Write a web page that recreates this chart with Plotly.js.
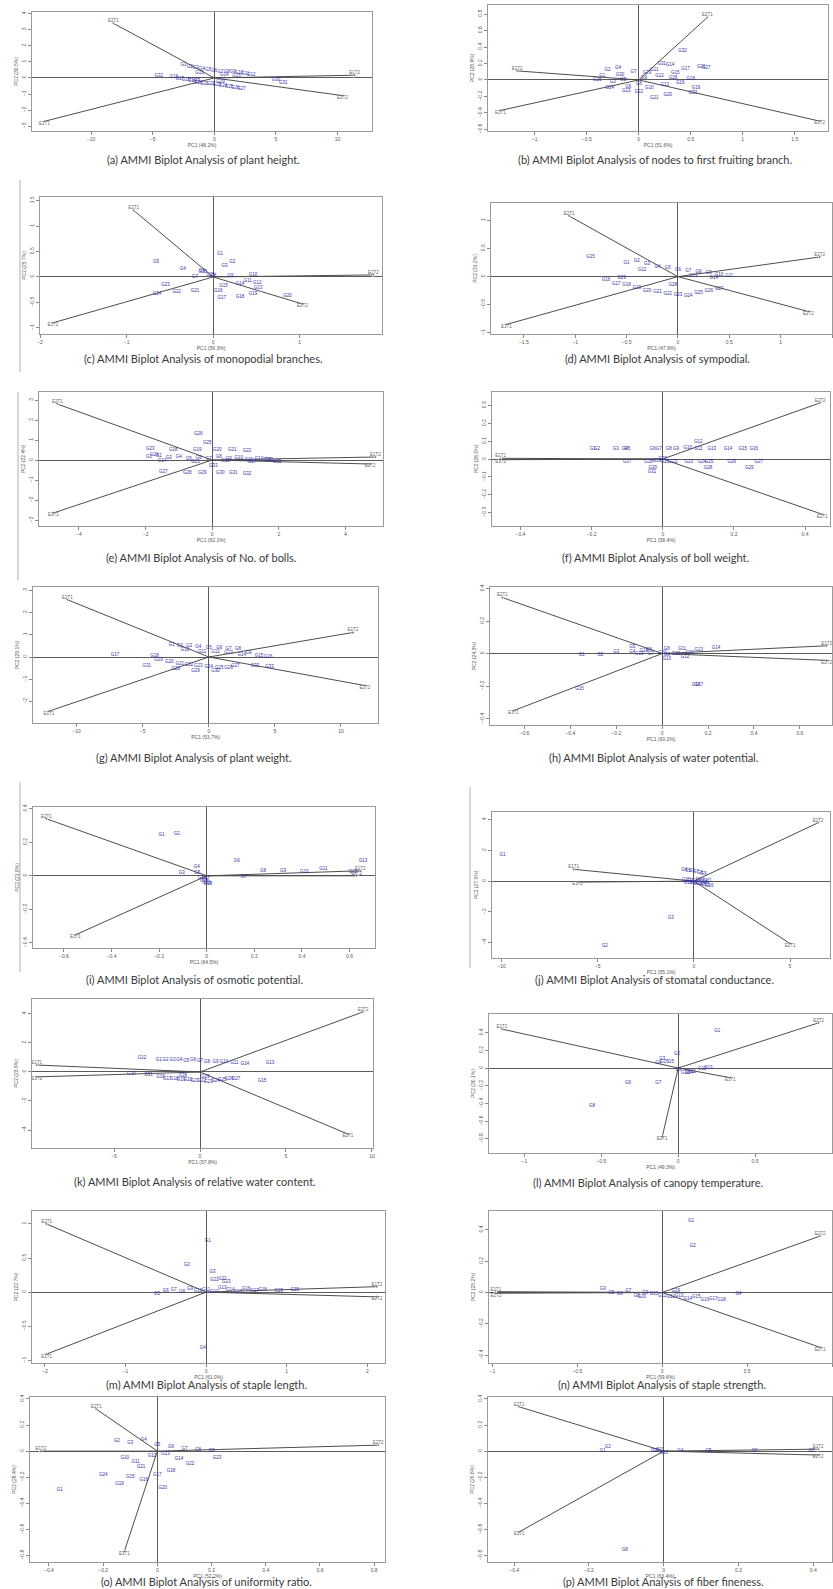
<!DOCTYPE html>
<html><head><meta charset="utf-8">
<script src="https://cdn.plot.ly/plotly-3.0.1.min.js"></script>
<style>html,body{margin:0;padding:0;background:#fff}#chart{width:833px;height:1589px}</style>
</head><body><div id="chart"></div>
<script>
const genoLab = ["G1","G2","G3","G4","G5","G6","G7","G8","G9","G10","G11","G12","G13","G14","G15","G16","G17","G18","G19","G20","G21","G22","G23","G24","G25","G26","G27","G28","G29","G30","G31","G32","G33","G34","G35","G36","G37","G38","G39","G40"];
const pc1Lab = ["PC1 (48.2%)","PC1 (51.6%)","PC1 (56.3%)","PC1 (47.9%)","PC1 (62.1%)","PC1 (58.4%)","PC1 (53.7%)","PC1 (60.2%)","PC1 (64.5%)","PC1 (55.1%)","PC1 (57.8%)","PC1 (49.3%)","PC1 (61.0%)","PC1 (59.6%)","PC1 (52.2%)","PC1 (63.4%)"];
const pc2Lab = ["PC2 (30.5%)","PC2 (28.9%)","PC2 (25.7%)","PC2 (31.2%)","PC2 (22.4%)","PC2 (26.0%)","PC2 (29.1%)","PC2 (24.3%)","PC2 (21.8%)","PC2 (27.5%)","PC2 (23.9%)","PC2 (30.1%)","PC2 (22.7%)","PC2 (25.2%)","PC2 (28.4%)","PC2 (20.6%)"];

// (a) plant height
const aEnvX = [-8.2,-13.8,11.4,10.4], aEnvY = [3.4,-2.7,0.17,-1.1], aEnvLab = ["E2T1","E1T1","E1T2","E2T2"];
const aGenX = [-2.5,-2.0,-1.5,-1.0,-0.5,0,0.5,1.0,1.5,2.0,2.5,3.0,-1.2,0.8,1.8,-3.3,-2.8,-2.3,-1.8,-1.3,-0.8,-0.3,0.2,0.7,1.2,1.7,2.2,-1.5,0.5,5.0,5.6,-4.5];
const aGenY = [0.8,0.7,0.6,0.55,0.5,0.45,0.4,0.38,0.35,0.3,0.25,0.2,0.3,0.2,0.15,0.05,-0.05,-0.15,-0.2,-0.3,-0.35,-0.4,-0.45,-0.5,-0.55,-0.6,-0.65,-0.1,-0.25,-0.1,-0.3,0.1];
const aXT = [-10,-5,0,5,10], aYT = [-3,-2,-1,0,1,2,3,4];
// (b) nodes to first fruiting branch
const bEnvX = [0.66,-1.17,-1.33,1.74], bEnvY = [0.76,0.11,-0.37,-0.5], bEnvLab = ["E2T1","E1T2","E1T1","E2T2"];
const bGenX = [-0.35,-0.3,-0.25,-0.2,-0.15,-0.1,-0.05,0.0,0.05,0.1,0.15,0.2,0.25,0.3,0.35,0.4,0.45,0.5,0.55,0.28,0.15,0.0,-0.12,-0.28,-0.4,0.6,0.65,0.33,0.08,-0.18,0.22,0.42,0.52];
const bGenY = [0.05,0.12,-0.02,0.15,0.0,-0.08,0.1,-0.05,0.03,-0.1,0.12,0.05,-0.06,0.18,0.08,-0.04,0.13,0.01,-0.1,-0.18,-0.22,-0.15,-0.13,-0.1,0.0,0.16,0.15,0.02,0.08,0.06,0.19,0.35,-0.16];
const bXT = [-1,-0.5,0,0.5,1,1.5], bYT = [-0.6,-0.4,-0.2,0,0.2,0.4,0.6,0.8];
// (c) monopodial branches
const cEnvX = [-0.92,-1.85,1.85,1.03], cEnvY = [1.31,-0.9,0.04,-0.53], cEnvLab = ["E2T1","E1T1","E1T2","E2T2"];
const cGenX = [0.08,0.22,0.13,-0.35,-0.66,-0.13,-0.21,0,0.2,0.46,0.4,0.51,0.52,0.31,0.12,0.06,0.1,0.31,0.46,0.86,-0.21,-0.42,-0.55,-0.65,-0.12,-0.03];
const cGenY = [0.45,0.3,0.22,0.16,0.3,0.12,0.0,0.02,0.02,0.04,-0.08,-0.12,-0.22,-0.14,-0.17,-0.27,-0.41,-0.39,-0.33,-0.37,-0.27,-0.29,-0.16,-0.33,0.1,0.04];
const cXT = [-2,-1,0,1], cYT = [-1,-0.5,0,0.5,1,1.5];
// (d) sympodial
const dEnvX = [-1.06,-1.67,1.38,1.27], dEnvY = [1.08,-0.85,0.35,-0.62], dEnvLab = ["E2T1","E1T1","E1T2","E2T2"];
const dGenX = [-0.5,-0.4,-0.3,-0.2,-0.1,0,0.1,0.2,0.3,0.4,0.5,-0.35,0.15,0.35,-0.85,-0.7,-0.6,-0.5,-0.4,-0.3,-0.2,-0.1,0,0.1,0.2,0.3,0.4,-0.05,-0.55];
const dGenY = [0.25,0.28,0.22,0.18,0.15,0.12,0.1,0.08,0.06,0.04,0.02,0.12,0.02,-0.02,0.35,-0.05,-0.12,-0.15,-0.2,-0.25,-0.27,-0.3,-0.32,-0.35,-0.28,-0.25,-0.22,-0.15,-0.03];
const dXT = [-1.5,-1,-0.5,0,0.5,1,1.5], dYT = [-1,-0.5,0,0.5,1];
// (e) No. of bolls
const eEnvX = [-4.65,-4.77,4.9,4.74], eEnvY = [2.8,-2.65,0.15,-0.2], eEnvLab = ["E2T1","E1T1","E1T2","E2T2"];
const eGenX = [-1.9,-1.6,-1.3,-1.0,-0.7,-0.4,-0.1,0.2,0.5,0.8,1.1,1.4,1.7,-1.5,-0.5,0.4,1.2,-1.17,-0.45,0.15,0.6,1.05,-1.86,-1.74,-0.15,-0.42,-1.47,-0.75,-0.3,0.24,0.63,1.05,0.03,1.65,1.95];
const eGenY = [0.15,0.2,0.1,0.18,0.05,0.12,0.08,0.14,0.05,0.1,0.03,0.08,0.02,-0.05,-0.08,-0.05,-0.1,0.5,0.5,0.5,0.5,0.45,0.55,0.25,0.85,1.3,-0.6,-0.65,-0.65,-0.65,-0.65,-0.7,-0.3,0,-0.1];
const eXT = [-4,-2,0,2,4], eYT = [-3,-2,-1,0,1,2,3];
// (f) boll weight
const fEnvX = [0.442,0.448,-0.456,-0.456], fEnvY = [0.315,-0.31,0.004,-0.004], fEnvLab = ["E2T2","E2T1","E1T1","E1T2"];
const fGenX = [-0.197,-0.185,-0.132,-0.107,-0.1,-0.028,-0.011,0.017,0.037,0.07,0.1,0.1,0.138,0.183,0.225,0.256,-0.1,-0.04,-0.017,0.0,0.006,0.03,0.073,0.11,0.13,0.194,0.27,0.127,0.243,-0.028,-0.03];
const fGenY = [0.056,0.056,0.056,0.056,0.056,0.056,0.056,0.056,0.056,0.06,0.056,0.095,0.056,0.056,0.056,0.056,-0.017,-0.017,-0.01,0.0,-0.017,-0.017,-0.017,-0.017,-0.017,-0.017,-0.017,-0.05,-0.05,-0.05,-0.07];
const fXT = [-0.4,-0.2,0,0.2,0.4], fYT = [-0.3,-0.2,-0.1,0,0.1,0.2,0.3];
// (g) plant weight
const gEnvX = [-10.7,-12.1,10.9,11.8], gEnvY = [2.57,-2.43,1.1,-1.28], gEnvLab = ["E2T1","E1T1","E1T2","E2T2"];
const gGenX = [-2.8,-2.2,-1.5,-0.8,0,0.8,1.5,2.2,3.0,-1.8,-0.5,0.5,1.5,2.5,3.8,4.5,-7.1,-4.1,-3.8,-3.0,-2.2,-1.5,-0.8,0,0.8,1.5,2.0,-2.5,-1.0,0.5,-4.7,3.5,4.6];
const gGenY = [0.55,0.5,0.48,0.45,0.42,0.4,0.38,0.35,0.2,0.3,0.25,0.22,0.18,0.1,0.05,0.02,0.09,0.04,-0.15,-0.2,-0.3,-0.35,-0.4,-0.45,-0.5,-0.5,-0.4,-0.55,-0.6,-0.62,-0.4,-0.4,-0.44];
const gXT = [-10,-5,0,5,10], gYT = [-2,-1,0,1,2,3];
// (h) water potential
const hEnvX = [-0.696,-0.648,0.717,0.717], hEnvY = [0.345,-0.352,0.048,-0.042], hEnvLab = ["E2T1","E1T1","E1T2","E2T2"];
const hGenX = [-0.35,-0.27,-0.2,-0.13,-0.13,-0.057,-0.05,0.02,0.02,0.02,0.087,0.1,0.16,0.235,-0.36,0.148,0.16,-0.08,-0.1,0.0,0.06,0.12];
const hGenY = [-0.01,-0.01,0.01,0.012,0.04,0.024,0.0,0.03,-0.01,-0.03,0.03,-0.02,0.024,0.036,-0.22,-0.19,-0.19,0.015,0.0,0.005,0.0,0.005];
const hXT = [-0.6,-0.4,-0.2,0,0.2,0.4,0.6], hYT = [-0.4,-0.2,0,0.2,0.4];
// (i) osmotic potential
const iEnvX = [-0.674,-0.552,0.645,0.63], iEnvY = [0.34,-0.352,0.03,0.0], iEnvLab = ["E2T1","E1T1","E1T2","E2T2"];
const iGenX = [-0.19,-0.126,-0.105,-0.042,-0.04,0.126,0.156,0.236,0.32,0.41,0.49,0.615,0.657,-0.02,-0.01,0.0,-0.005,0.005];
const iGenY = [0.245,0.25,0.018,0.054,0.02,0.09,-0.006,0.03,0.03,0.024,0.042,0.024,0.09,-0.01,-0.03,-0.04,-0.02,-0.05];
const iXT = [-0.6,-0.4,-0.2,0,0.2,0.4,0.6], iYT = [-0.4,-0.2,0,0.2,0.4];
// (j) stomatal conductance
const jEnvX = [6.46,5.0,-6.25,-6.04], jEnvY = [3.8,-4.06,0.77,-0.06], jEnvLab = ["E2T2","E2T1","E1T1","E1T2"];
const jGenX = [-9.95,-4.63,-1.2,-0.5,-0.3,-0.1,0.1,0.3,0.5,-0.4,-0.2,0.0,0.2,0.4,0.6,0.8,0.1,0.5,-0.3,0.3,0.7];
const jGenY = [1.74,-4.2,-2.4,0.75,0.7,0.65,0.6,0.55,0.5,0.1,0.0,-0.1,-0.15,-0.2,-0.25,-0.3,0.05,-0.05,-0.1,0.1,0.0];
const jXT = [-10,-5,0,5], jYT = [-4,-2,0,2,4];
// (k) relative water content
const kEnvX = [9.48,8.6,-9.5,-9.5], kEnvY = [4.14,-4.28,0.48,-0.34], kEnvLab = ["E2T2","E2T1","E1T1","E1T2"];
const kGenX = [-2.4,-2.0,-1.6,-1.2,-0.8,-0.4,0.0,0.4,0.9,1.4,2.0,-3.37,4.07,2.6,3.6,-2.3,-1.9,-1.5,-1.1,-0.7,-0.3,0.1,0.5,0.9,1.3,1.7,2.1,-1.0,0.3,-4.0,-3.0];
const kGenY = [0.85,0.8,0.82,0.8,0.78,0.8,0.75,0.72,0.7,0.68,0.66,0.97,0.62,0.55,-0.62,-0.35,-0.45,-0.5,-0.55,-0.55,-0.6,-0.6,-0.65,-0.6,-0.55,-0.5,-0.45,-0.3,-0.35,-0.1,-0.2];
const kXT = [-5,0,5,10], kYT = [-4,-2,0,2,4];
// (l) canopy temperature
const lEnvX = [-1.147,0.913,-0.104,0.34], lEnvY = [0.44,0.51,-0.78,-0.11], lEnvLab = ["E1T2","E2T2","E2T1","E1T1"];
const lGenX = [0.254,-0.007,-0.104,-0.13,-0.046,-0.326,-0.13,-0.56,0.0,0.046,0.09,0.156,0.196,0.07,-0.09];
const lGenY = [0.42,0.158,0.1,0.06,0.068,-0.17,-0.17,-0.43,-0.02,-0.05,-0.04,-0.015,0.0,-0.06,0.07];
const lXT = [-1,-0.5,0,0.5], lYT = [-0.8,-0.6,-0.4,-0.2,0,0.2,0.4];
// (m) staple length
const mEnvX = [-1.98,-1.98,2.12,2.12], mEnvY = [1.0,-0.91,0.08,-0.07], mEnvLab = ["E2T1","E1T1","E1T2","E2T2"];
const mGenX = [0.02,-0.24,0.08,-0.04,-0.61,-0.5,-0.4,-0.3,-0.2,-0.1,0.0,0.1,0.2,0.3,0.4,0.5,0.6,0.7,0.9,1.1,0.1,0.2,0.25];
const mGenY = [0.75,0.4,0.3,-0.82,-0.03,0.02,0.04,0.0,0.05,0.02,0.04,0.0,0.06,0.03,0.01,0.05,0.02,0.04,0.02,0.03,0.18,0.2,0.15];
const mXT = [-2,-1,0,1,2], mYT = [-1,-0.5,0,0.5,1];
// (n) staple strength
const nEnvX = [0.93,0.93,-0.98,-0.98], nEnvY = [0.36,-0.35,0.005,-0.005], nEnvLab = ["E2T2","E2T1","E1T1","E1T2"];
const nGenX = [0.17,0.18,-0.35,0.45,-0.3,-0.25,-0.2,-0.15,-0.1,-0.05,0.0,0.05,0.1,0.15,0.2,0.25,0.3,0.35,0.08,-0.12];
const nGenY = [0.46,0.3,0.02,-0.01,0.0,-0.01,0.01,-0.02,0.0,-0.01,-0.02,-0.03,-0.02,-0.04,-0.03,-0.05,-0.04,-0.05,0.01,-0.03];
const nXT = [-1,-0.5,0,0.5,1], nYT = [-0.4,-0.2,0,0.2,0.4];
// (o) uniformity ratio
const oEnvX = [-0.226,-0.122,-0.43,0.815], oEnvY = [0.323,-0.77,0.0,0.046], oEnvLab = ["E2T1","E1T1","E1T2","E2T2"];
const oGenX = [-0.36,-0.15,-0.1,-0.05,0.0,0.05,0.1,0.15,0.2,-0.12,-0.08,-0.02,0.03,0.08,-0.1,-0.05,0.0,0.05,-0.14,0.02,-0.06,0.12,0.22,-0.2];
const oGenY = [-0.3,0.08,0.06,0.09,0.05,0.03,0.02,0.01,0.0,-0.05,-0.08,-0.04,-0.02,-0.06,-0.2,-0.22,-0.18,-0.15,-0.25,-0.28,-0.12,-0.1,-0.05,-0.18];
const oXT = [-0.4,-0.2,0,0.2,0.4,0.6,0.8], oYT = [-0.8,-0.6,-0.4,-0.2,0,0.2,0.4];
// (p) fiber fineness
const pEnvX = [-0.387,-0.387,0.413,0.413], pEnvY = [0.34,-0.62,0.015,-0.03], pEnvLab = ["E2T1","E1T1","E1T2","E2T2"];
const pGenX = [-0.163,-0.15,-0.027,0.045,0.12,0.243,0.395,-0.104,-0.02,0.0,-0.01];
const pGenY = [0.0,0.03,0.0,0.0,0.0,0.0,0.0,-0.76,0.0,-0.01,0.01];
const pXT = [-0.4,-0.2,0,0.2,0.4], pYT = [-0.8,-0.6,-0.4,-0.2,0,0.2,0.4];

const captions = [
 "(a) AMMI Biplot Analysis of plant height.",
 "(b) AMMI Biplot Analysis of nodes to first fruiting branch.",
 "(c) AMMI Biplot Analysis of monopodial branches.",
 "(d) AMMI Biplot Analysis of sympodial.",
 "(e) AMMI Biplot Analysis of No. of bolls.",
 "(f) AMMI Biplot Analysis of boll weight.",
 "(g) AMMI Biplot Analysis of plant weight.",
 "(h) AMMI Biplot Analysis of water potential.",
 "(i) AMMI Biplot Analysis of osmotic potential.",
 "(j) AMMI Biplot Analysis of stomatal conductance.",
 "(k) AMMI Biplot Analysis of relative water content.",
 "(l) AMMI Biplot Analysis of canopy temperature.",
 "(m) AMMI Biplot Analysis of staple length.",
 "(n) AMMI Biplot Analysis of staple strength.",
 "(o) AMMI Biplot Analysis of uniformity ratio.",
 "(p) AMMI Biplot Analysis of fiber fineness."
];

// layout: frame [left,right,top,bottom] in px, axis ranges, caption centre
const panels = [
 {ex:aEnvX,ey:aEnvY,el:aEnvLab,gx:aGenX,gy:aGenY,xt:aXT,yt:aYT,fr:[32,372,12,131],xr:[-14.8,12.8],yr:[-3.3,4.1],cap:[203,160]},
 {ex:bEnvX,ey:bEnvY,el:bEnvLab,gx:bGenX,gy:bGenY,xt:bXT,yt:bYT,fr:[488,828,5,131],xr:[-1.45,1.82],yr:[-0.62,0.91],cap:[655,160]},
 {ex:cEnvX,ey:cEnvY,el:cEnvLab,gx:cGenX,gy:cGenY,xt:cXT,yt:cYT,fr:[40,382,197,334],xr:[-2.0,1.95],yr:[-1.12,1.57],cap:[203,358]},
 {ex:dEnvX,ey:dEnvY,el:dEnvLab,gx:dGenX,gy:dGenY,xt:dXT,yt:dYT,fr:[491,832,203,334],xr:[-1.82,1.5],yr:[-1.02,1.31],cap:[657,358]},
 {ex:eEnvX,ey:eEnvY,el:eEnvLab,gx:eGenX,gy:eGenY,xt:eXT,yt:eYT,fr:[39,383,392,526],xr:[-5.2,5.13],yr:[-3.3,3.4],cap:[201,557]},
 {ex:fEnvX,ey:fEnvY,el:fEnvLab,gx:fGenX,gy:fGenY,xt:fXT,yt:fYT,fr:[492,830,392,526],xr:[-0.48,0.47],yr:[-0.376,0.376],cap:[655,557]},
 {ex:gEnvX,ey:gEnvY,el:gEnvLab,gx:gGenX,gy:gGenY,xt:gXT,yt:gYT,fr:[33,378,587,723],xr:[-13.3,12.8],yr:[-2.96,3.14],cap:[194,757]},
 {ex:hEnvX,ey:hEnvY,el:hEnvLab,gx:hGenX,gy:hGenY,xt:hXT,yt:hYT,fr:[490,832,587,725],xr:[-0.75,0.74],yr:[-0.44,0.41],cap:[653,757]},
 {ex:iEnvX,ey:iEnvY,el:iEnvLab,gx:iGenX,gy:iGenY,xt:iXT,yt:iYT,fr:[33,375,807,948],xr:[-0.73,0.707],yr:[-0.43,0.41],cap:[194,979]},
 {ex:jEnvX,ey:jEnvY,el:jEnvLab,gx:jGenX,gy:jGenY,xt:jXT,yt:jYT,fr:[492,830,812,958],xr:[-10.5,7.08],yr:[-5.0,4.5],cap:[654,979]},
 {ex:kEnvX,ey:kEnvY,el:kEnvLab,gx:kGenX,gy:kGenY,xt:kXT,yt:kYT,fr:[32,373,999,1148],xr:[-9.77,10.06],yr:[-5.24,5.03],cap:[195,1181]},
 {ex:lEnvX,ey:lEnvY,el:lEnvLab,gx:lGenX,gy:lGenY,xt:lXT,yt:lYT,fr:[489,832,1014,1153],xr:[-1.23,1.0],yr:[-0.96,0.61],cap:[648,1182]},
 {ex:mEnvX,ey:mEnvY,el:mEnvLab,gx:mGenX,gy:mGenY,xt:mXT,yt:mYT,fr:[32,385,1211,1363],xr:[-2.16,2.22],yr:[-1.04,1.19],cap:[206,1384]},
 {ex:nEnvX,ey:nEnvY,el:nEnvLab,gx:nGenX,gy:nGenY,xt:nXT,yt:nYT,fr:[489,832,1211,1363],xr:[-1.02,1.0],yr:[-0.45,0.52],cap:[662,1384]},
 {ex:oEnvX,ey:oEnvY,el:oEnvLab,gx:oGenX,gy:oGenY,xt:oXT,yt:oYT,fr:[30,385,1397,1562],xr:[-0.47,0.84],yr:[-0.85,0.415],cap:[206,1581]},
 {ex:pEnvX,ey:pEnvY,el:pEnvLab,gx:pGenX,gy:pGenY,xt:pXT,yt:pYT,fr:[488,832,1397,1562],xr:[-0.47,0.45],yr:[-0.85,0.415],cap:[663,1581]}
];

const W = 833, H = 1589;
const data = [];
const layout = {width:W,height:H,margin:{l:0,r:0,t:0,b:0},paper_bgcolor:'#fff',plot_bgcolor:'#fff',
  showlegend:false,annotations:[],shapes:[],font:{family:'Liberation Sans, Arial, sans-serif'}};

const axCommon = {showgrid:false,zeroline:true,zerolinecolor:'#5a5a5a',zerolinewidth:1,showline:true,mirror:true,
  linecolor:'#9a9a9a',linewidth:1,ticks:'outside',ticklen:3,tickwidth:1,tickcolor:'#888',
  tickfont:{size:5,color:'#555'},fixedrange:true};

panels.forEach((p,i)=>{
  const n = i+1, s = n===1 ? '' : String(n);
  const xa = 'x'+s, ya = 'y'+s;
  const [l,r,t,b] = p.fr;
  layout['xaxis'+s] = Object.assign({}, axCommon, {domain:[l/W,r/W],range:p.xr,anchor:ya,tickvals:p.xt,
     title:{text:pc1Lab[i],font:{size:5,color:'#555'},standoff:2}});
  layout['yaxis'+s] = Object.assign({}, axCommon, {domain:[1-b/H,1-t/H],range:p.yr,anchor:xa,tickvals:p.yt,tickangle:-90,
     title:{text:pc2Lab[i],font:{size:5,color:'#555'},standoff:2}});
  p.ex.forEach((x,j)=>{
    data.push({type:'scatter',mode:'lines+markers',x:[0,x],y:[0,p.ey[j]],xaxis:xa,yaxis:ya,hoverinfo:'skip',
      line:{color:'#4d4d4d',width:1},marker:{symbol:'triangle-up',size:[0,4],angleref:'previous',color:'#4d4d4d'}});
  });
  data.push({type:'scatter',mode:'text',x:p.ex,y:p.ey,text:p.el,xaxis:xa,yaxis:ya,cliponaxis:false,hoverinfo:'skip',
    textposition:p.ey.map(v=>v>=0?'top center':'bottom center'),textfont:{size:4.5,color:'#666'}});
  data.push({type:'scatter',mode:'text',x:p.gx,y:p.gy,text:genoLab.slice(0,p.gx.length),xaxis:xa,yaxis:ya,hoverinfo:'skip',
    textfont:{size:4.5,color:'#2f2fa6'}});
  layout.annotations.push({xref:'paper',yref:'paper',x:p.cap[0]/W,y:1-p.cap[1]/H,text:captions[i],showarrow:false,
    xanchor:'center',yanchor:'middle',font:{family:'Lato, Open Sans, sans-serif',size:11,color:'#3a3a3a'}});
});

// thin vertical border remnants beside some panels
[[20,180,372],[18,392,580],[20,782,972],[470,787,968]].forEach(v=>{
  layout.shapes.push({type:'line',xref:'paper',yref:'paper',x0:v[0]/W,x1:v[0]/W,y0:1-v[1]/H,y1:1-v[2]/H,line:{color:'#b0b0b0',width:1}});
});

Plotly.newPlot('chart', data, layout, {staticPlot:true,displayModeBar:false});
</script>
</body></html>
